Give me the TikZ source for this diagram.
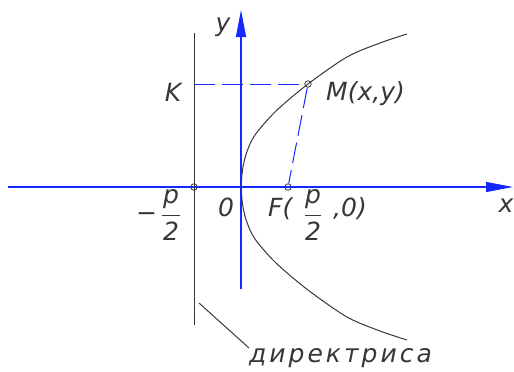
\documentclass[tikz,border=0pt]{standalone}
\usepackage{fontspec}
\setmainfont{DejaVu Sans}
\usetikzlibrary{arrows.meta, positioning}
\definecolor{axisblue}{RGB}{20,40,255}
\definecolor{inkgray}{RGB}{55,55,55}
\tikzset{
    % axes and construction lines
    axisline/.style={-{Triangle[length=27pt, width=10pt]}, axisblue, line width=1.2pt},
    dashline/.style={axisblue, line width=1pt, dash pattern=on 21pt off 7pt},
    thinline/.style={inkgray, line width=1pt},
    fracbar/.style={inkgray, line width=1.1pt},
    % points and labels
    ptcirc/.style={circle, draw=inkgray, line width=0.8pt, inner sep=0pt, minimum size=6.5pt},
    lbl/.style={font=\fontsize{25}{28}\selectfont\itshape, text=inkgray, inner sep=0pt},
}
\begin{document}
\begin{tikzpicture}[x=1pt, y=-1pt]
\useasboundingbox (0,0) rectangle (514,372);
% points
\coordinate (O) at (241,187);
\coordinate (K) at (194,84);
\node[ptcirc] (D) at (194,187) {};
\node[ptcirc] (F) at (288,187) {};
\node[ptcirc] (M) at (308,84) {};
% axes
\coordinate (xs) at (8,187);
\coordinate (xe) at (513,187);
\coordinate (ys) at (241,289);
\coordinate (ye) at (241,10);
\draw[axisline] (xs) -- (xe);
\draw[axisline] (ys) -- (ye);
% directrix
\coordinate (dtop) at (194,33);
\coordinate (dbot) at (194,325);
\draw[thinline] (dtop) -- (dbot);
% parabola
\draw[thinline] plot[smooth] coordinates {
    (407,34) (380,43) (347,57) (308,84) (276,111) (255,135) (246.5,153) (242.5,170)
    (241.3,187)
    (242.5,204) (246.5,221) (255,239) (276,263) (308,290) (347,317) (380,331) (407,340)};
% dashed lines
\draw[dashline] (K) -- (M);
\draw[dashline] (M) -- (F);
% labels
\node[lbl] (ylbl) at (223,27) {y};
\node[lbl] (xlbl) at (506,206) {x};
\node[lbl] (klbl) at (173,92) {K};
\node[lbl, anchor=base west] (mlbl) at (326,100) {M(x,y)};
\node[lbl] (olbl) at (226,207) {0};
% -p/2
\node[lbl, anchor=base west] (minus) at (136,221) {−};
\node[lbl] (pnum) at (171,199) {p};
\node[lbl] (pden) at (171,231) {2};
\draw[fracbar] ([xshift=-9pt, yshift=6pt]pden.north) -- ([xshift=9pt, yshift=6pt]pden.north);
% F(p/2,0)
\node[lbl, anchor=base west] (fopen) at (268,216) {F(};
\node[lbl] (fnum) at (313,199) {p};
\node[lbl] (fden) at (313,231) {2};
\node[lbl, anchor=base west] (fclose) at (333,216) {,0)};
\draw[fracbar] ([xshift=-8pt, yshift=6pt]fden.north) -- ([xshift=8pt, yshift=6pt]fden.north);
% directrix label
\node[lbl, anchor=north west] (dlbl) at (249,348) {\addfontfeature{LetterSpace=12}директриса};
\coordinate (ldr) at (199,303);
\draw[thinline] (ldr) -- (dlbl.north west);
\end{tikzpicture}
\end{document}
